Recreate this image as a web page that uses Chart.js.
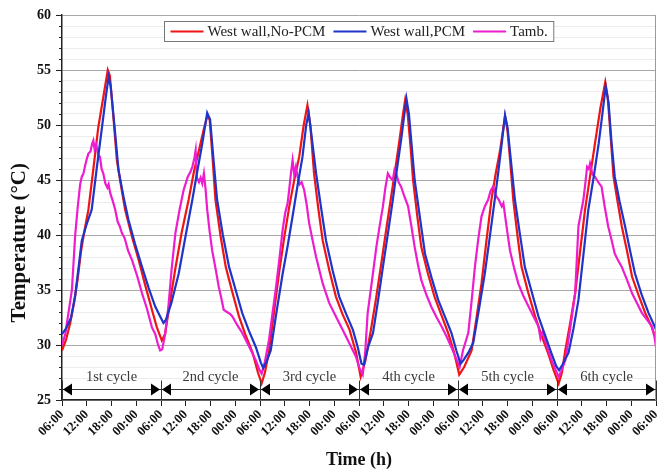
<!DOCTYPE html>
<html>
<head>
<meta charset="utf-8">
<title>West wall temperature</title>
<script src="https://cdn.jsdelivr.net/npm/chart.js"></script>
<style>
  html, body { margin: 0; padding: 0; background: #fff; }
  #wrap { width: 657px; height: 472px; }
</style>
</head>
<body>
<div id="wrap"><canvas id="chart" width="657" height="472"></canvas></div>
<script>
// hours counted from 06:00 of day 1, temperatures in degC
const noPcmData = [
  [0,29.5],[1,30.5],[2,32],[3,34],[3.8,36],[4.6,38.5],[5.5,40.5],[6.4,42.3],[7.6,46],[8.8,49.8],[10,52.5],[11.1,55],[11.6,54.5],[12.4,51],[13.3,46.8],[14.3,44.5],[15.3,42.3],[17,39.8],[18.6,37.7],[20.2,35.4],[21.8,33.2],[23,31.6],[24.2,30.4],
  [25,31],[26,33.5],[27.5,37],[29,40.2],[30.7,43.2],[32,45.8],[33.2,47.7],[34.3,49.5],[35.2,50.8],[35.8,50.5],[36.5,47],[37.2,43.2],[38.4,40],[39.7,37.1],[41.3,34.8],[42.9,32.6],[44.5,30.9],[46.2,29.3],[47.5,27.5],[48.4,26.5],
  [49.2,27.5],[50.2,29.5],[51.4,33],[52.6,36.5],[53.8,39.6],[55.1,42.6],[56.3,45],[57.5,47.1],[58.6,50],[59.5,51.8],[60.2,50],[61.1,45.6],[62.1,42.5],[63.2,39.5],[64.8,36.8],[66.4,34.4],[68,32.8],[69.7,31.4],[71.3,29.3],[72.4,27.1],
  [73.5,28.5],[74.9,31.4],[76.2,34.4],[77.4,37.4],[78.6,40.5],[79.8,43.5],[80.8,46],[81.8,48.6],[82.6,50.8],[83.2,52.3],[83.8,51],[84.5,48],[85.1,45],[86.1,41.8],[87.1,38.9],[88.7,36.5],[90.3,34.4],[92,32.7],[93.6,31.1],[95,29.4],[96.3,27.3],
  [97.5,28],[99.3,29.5],[100.5,32.5],[101.7,35.6],[102.9,39.5],[104.1,43.2],[105.1,45.5],[106.2,47.7],[107.4,50.8],[108,49.5],[108.7,46.5],[109.4,43.2],[110.4,40],[111.4,37.1],[113,34.8],[114.7,32.6],[116.3,30.8],[117.9,29.2],[119.2,27.7],[120.4,26.5],
  [121.2,27.5],[122,29.5],[123.2,32],[124.4,34.7],[125.6,38.5],[126.8,42.3],[128,45.3],[129.2,48.3],[130.5,51.5],[131.7,53.9],[132.3,52.5],[133,49],[133.7,45.3],[134.7,43],[135.7,40.8],[137,38.5],[138.2,36.2],[139.8,34.5],[141.4,32.9],[143,31.6],[144,30.5]
];
const pcmData = [
  [0,31],[1,31.5],[2.2,32.5],[3.2,34.5],[4,37],[4.8,39.5],[6,41],[7.2,42.3],[8.4,46],[9.7,49.8],[10.6,52.5],[11.3,54.4],[11.8,53.5],[12.7,50],[13.7,45.9],[14.9,43.5],[16.1,41.4],[17.7,39.2],[19.4,37.1],[21,35.2],[22.6,33.5],[23.8,32.6],[24.6,32],[25.2,32.3],
  [26.5,33.8],[28.3,36.5],[30,40],[31.6,43.2],[32.8,45.8],[34,48.3],[35.2,51.1],[35.9,50.5],[36.7,47],[37.6,43.2],[39,40],[40.5,37.1],[42.1,35],[43.7,32.9],[45.3,31.3],[47,29.8],[48.2,28.4],[48.8,27.9],
  [49.6,28.5],[50.6,29.5],[52,33],[53.5,36.5],[54.7,39],[55.9,41.7],[57.1,44.5],[58.3,47.1],[59.2,50],[59.8,51.1],[60.5,49],[61.6,45.6],[62.8,42.5],[64,39.5],[65.6,36.8],[67.2,34.4],[68.9,32.8],[70.5,31.4],[71.7,29.8],[72.6,28.3],[73.2,28.2],
  [74.2,29.8],[75.4,31.1],[76.6,34],[77.8,37.1],[79,40.1],[80.2,43.2],[81.2,46],[82.2,48.6],[83,51],[83.5,52.4],[84.1,51],[84.8,48],[85.5,45],[86.8,41.5],[88,38.3],[89.6,36.1],[91.2,34.1],[92.8,32.6],[94.4,31.1],[95.6,29.5],[96.6,28.3],[97.3,28.6],
  [98.5,29.3],[99.7,30.2],[101.1,33.3],[102.5,36.5],[103.7,39.8],[104.9,43.2],[105.8,45.8],[106.6,48.3],[107.4,50.9],[108,49.8],[108.9,46.5],[109.8,43.2],[111,40.1],[112.2,37.1],[113.9,34.8],[115.5,32.6],[117.1,30.9],[118.7,29.2],[119.8,28.1],[120.5,27.7],[121.3,28.2],
  [122.8,29.3],[124,31.5],[125.2,34.1],[126.4,38.2],[127.6,42.3],[128.9,45.3],[130.1,48.3],[131,51],[131.8,53.5],[132.5,52],[133.2,48.5],[134,45.3],[135.2,43],[136.5,40.8],[137.7,38.6],[138.9,36.5],[140.5,34.6],[142.2,32.9],[143.3,32],[144,31.4]
];
const ambientData = [
  [0,30],[0.8,31],[1.6,33],[2.4,35],[3.2,40],[3.8,42.5],[4.4,44.6],[4.8,45.3],[5.2,45.6],[5.6,46.3],[6,46.9],[6.4,47.4],[6.9,47.6],[7.3,48.3],[7.6,48.6],[7.9,47.8],[8.3,48.2],[8.8,47.3],[9.2,47.1],[9.6,46],[10,45.6],[10.5,44.7],[11,44.3],[11.3,44.6],[11.7,43.8],[12.3,43.1],[12.9,42.3],[13.5,41.2],[14,40.8],[14.5,40.2],[15.2,39.7],[16,38.6],[17,37.7],[18.2,36.3],[19.4,34.7],[20.6,33.3],[21.8,31.6],[22.6,31],[23.3,30],[23.8,29.5],
  [24.3,29.6],[25,31],[25.8,33.5],[26.6,37],[27.5,40.2],[28.5,42.3],[29.5,44.1],[30.5,45.3],[31.2,45.8],[31.6,46.2],[32.1,47],[32.4,47.7],[32.7,45.2],[33.2,44.8],[33.6,45.2],[34,44.7],[34.4,45.6],[34.8,44.2],[35.2,42.3],[35.8,40.3],[36.4,38.6],[37.2,37],[38,35.3],[38.6,34.3],[39.2,33.2],[40,33],[40.8,32.8],[41.3,32.6],[42.5,31.8],[43.7,31.1],[45.3,29.9],[47,28.6],[47.8,27.8],[48.4,27.4],
  [49.2,28.5],[50.2,30.5],[51,32.8],[51.8,35],[52.7,37.8],[53.5,40.5],[54.1,42],[54.7,42.9],[55.1,44.2],[55.5,45.6],[55.9,46.8],[56.3,45.5],[56.7,46.2],[57.1,45.3],[57.6,44.6],[58.1,44.8],[58.7,44.1],[59.3,42.8],[59.9,41.1],[60.7,39.6],[61.6,38],[62.4,36.8],[63.2,35.6],[64,34.7],[64.8,33.8],[66.4,32.6],[68,31.4],[69.6,30.2],[71.3,28.9],[72.2,27.8],[72.9,27.3],
  [73.5,29.3],[74.1,32.9],[75.2,36],[76.2,38.9],[77,40.8],[77.8,42.6],[78.4,44.3],[79,45.6],[79.6,45.2],[80.2,45],[80.6,45.9],[81,45.6],[81.6,44.8],[82.2,44.4],[83,43.5],[83.9,42.6],[84.7,40.8],[85.5,38.9],[86.3,37.3],[87.1,35.9],[88.3,34.6],[89.5,33.5],[90.7,32.6],[92,31.7],[93.2,30.8],[94.4,29.8],[95.4,28.9],[96.4,28],
  [97.2,29.5],[98.5,31.1],[99.3,34],[100.1,37.1],[100.9,39.6],[101.7,41.7],[102.5,42.6],[103.3,43.2],[103.9,44],[104.5,44.4],[104.9,44],[105.3,43.5],[105.9,43.2],[106.6,42.6],[107,42.9],[107.8,40.7],[108.6,38.6],[109.6,37],[110.6,35.6],[111.8,34.5],[113.1,33.5],[114.3,32.6],[115.5,31.7],[116,30.6],[116.5,31.2],[117.6,29.8],[118.7,28.6],[119.6,27.8],[120.4,27.1],
  [121,27.6],[122,28.6],[123.2,31.5],[124.4,34.7],[125.2,40.8],[125.8,42],[126.4,43.2],[126.9,44.8],[127.3,46.2],[127.7,46],[128,46.5],[128.6,45.5],[129.2,45.3],[130,44.8],[130.8,44.4],[131.6,42.5],[132.4,40.8],[133.2,39.6],[134,38.3],[134.8,37.7],[135.7,37.1],[137,35.9],[138.2,34.7],[139.4,33.8],[140.6,32.9],[141.8,32.3],[143,31.7],[143.6,30.8],[144,29.8]
];
const seriesNames = ['West wall,No-PCM', 'West wall,PCM', 'Tamb.'];
const clockLabels = ['06:00', '12:00', '18:00', '00:00'];
const cycleBounds = [0, 24, 48, 72, 96, 120, 144];
const cycleNames = ['1st cycle', '2nd cycle', '3rd cycle', '4th cycle', '5th cycle', '6th cycle'];
const arrowLevel = 26.0;
const cycleTextLevel = 27.1;
const yTitle = 'Temperature (°C)';

const serif = "'Liberation Serif', 'Times New Roman', serif";
const colors = ['#f01414', '#1f34c8', '#ee1ccf'];

function toPoints(arr) {
  return arr.map(p => ({ x: p[0], y: p[1] }));
}

// legend box drawn inside the plot, plus the cycle arrows, frame and y title
const extras = {
  id: 'extras',
  afterDraw(chart) {
    const ctx = chart.ctx;
    const area = chart.chartArea;
    const xs = chart.scales.x, ys = chart.scales.y;
    ctx.save();

    // right frame line
    ctx.strokeStyle = '#9a9a9a';
    ctx.lineWidth = 1;
    ctx.beginPath();
    ctx.moveTo(area.right - 0.5, area.top);
    ctx.lineTo(area.right - 0.5, area.bottom);
    ctx.stroke();

    // minor ticks on y axis
    ctx.strokeStyle = '#222';
    ctx.beginPath();
    for (let v = 25; v <= 60; v++) {
      if (v % 5 === 0) continue;
      const y = Math.round(ys.getPixelForValue(v)) + 0.5;
      ctx.moveTo(area.left - 3, y);
      ctx.lineTo(area.left, y);
    }
    ctx.stroke();

    // y title (sits a bit below the plot centre in the original)
    ctx.save();
    ctx.translate(20, ys.getPixelForValue(39.3));
    ctx.rotate(-Math.PI / 2);
    ctx.font = 'bold 21px ' + serif;
    ctx.fillStyle = '#111';
    ctx.textAlign = 'center';
    ctx.textBaseline = 'middle';
    ctx.fillText(yTitle, 0, 0);
    ctx.restore();

    // cycle arrows
    const ay = Math.round(ys.getPixelForValue(arrowLevel)) + 0.5;
    const ty = ys.getPixelForValue(cycleTextLevel);
    ctx.strokeStyle = '#333';
    ctx.fillStyle = '#000';
    ctx.lineWidth = 1;
    ctx.beginPath();
    ctx.moveTo(xs.getPixelForValue(cycleBounds[0]), ay);
    ctx.lineTo(xs.getPixelForValue(cycleBounds[cycleBounds.length - 1]), ay);
    ctx.stroke();
    cycleBounds.forEach(b => {
      const x = Math.round(xs.getPixelForValue(b)) + 0.5;
      ctx.beginPath();
      ctx.moveTo(x, ay - 9);
      ctx.lineTo(x, area.bottom);
      ctx.stroke();
    });
    for (let i = 0; i < cycleNames.length; i++) {
      const x0 = xs.getPixelForValue(cycleBounds[i]);
      const x1 = xs.getPixelForValue(cycleBounds[i + 1]);
      ctx.beginPath();
      ctx.moveTo(x0 + 1, ay);
      ctx.lineTo(x0 + 10, ay - 6);
      ctx.lineTo(x0 + 10, ay + 6);
      ctx.closePath();
      ctx.fill();
      ctx.beginPath();
      ctx.moveTo(x1 - 1, ay);
      ctx.lineTo(x1 - 10, ay - 6);
      ctx.lineTo(x1 - 10, ay + 6);
      ctx.closePath();
      ctx.fill();
      ctx.font = '14.5px ' + serif;
      ctx.fillStyle = '#3a3a3a';
      ctx.textAlign = 'center';
      ctx.textBaseline = 'middle';
      ctx.fillText(cycleNames[i], (x0 + x1) / 2, ty);
      ctx.fillStyle = '#000';
    }

    // legend
    ctx.font = '15px ' + serif;
    const lineLen = 33, gapLine = 4, gapItem = 8, padX = 6;
    const widths = seriesNames.map(n => ctx.measureText(n).width);
    let total = padX * 2;
    widths.forEach((w, i) => { total += lineLen + gapLine + w + (i < widths.length - 1 ? gapItem : 0); });
    const cx = (area.left + area.right) / 2;
    const bx = Math.round(cx - total / 2) + 0.5;
    const by = 21.5, bh = 20;
    ctx.fillStyle = '#fff';
    ctx.fillRect(bx, by, total, bh);
    ctx.strokeStyle = '#777';
    ctx.lineWidth = 1;
    ctx.strokeRect(bx, by, total, bh);
    let x = bx + padX;
    const my = by + bh / 2;
    seriesNames.forEach((n, i) => {
      ctx.strokeStyle = colors[i];
      ctx.lineWidth = 2;
      ctx.beginPath();
      ctx.moveTo(x, my);
      ctx.lineTo(x + lineLen, my);
      ctx.stroke();
      x += lineLen + gapLine;
      ctx.fillStyle = '#222';
      ctx.textAlign = 'left';
      ctx.textBaseline = 'middle';
      ctx.fillText(n, x, my + 1);
      x += widths[i] + gapItem;
    });
    ctx.restore();
  }
};

const ctx = document.getElementById('chart').getContext('2d');
new Chart(ctx, {
  type: 'line',
  data: {
    datasets: [
      { label: seriesNames[0], data: toPoints(noPcmData), borderColor: colors[0], order: 2 },
      { label: seriesNames[1], data: toPoints(pcmData), borderColor: colors[1], order: 0 },
      { label: seriesNames[2], data: toPoints(ambientData), borderColor: colors[2], order: 1 }
    ]
  },
  options: {
    responsive: false,
    animation: false,
    events: [],
    layout: { padding: { top: 15, right: 1, left: 0, bottom: 0 } },
    elements: {
      line: { borderWidth: 2.2, tension: 0 },
      point: { radius: 0 }
    },
    plugins: { legend: { display: false }, tooltip: { enabled: false } },
    scales: {
      x: {
        type: 'linear',
        min: 0,
        max: 144,
        afterFit: s => { s.height = 72; s.paddingRight = 0; },
        ticks: {
          stepSize: 6,
          autoSkip: false,
          maxRotation: 45,
          minRotation: 45,
          padding: 1,
          color: '#111',
          font: { family: serif, size: 13, weight: 'bold' },
          callback: v => clockLabels[Math.round(v / 6) % 4]
        },
        grid: { drawOnChartArea: false, drawTicks: true, tickLength: 6, tickColor: '#222' },
        border: { color: '#222', width: 1.5 },
        title: {
          display: true,
          text: 'Time (h)',
          color: '#111',
          font: { family: serif, size: 18, weight: 'bold' },
          padding: { top: 0, bottom: 1 }
        }
      },
      y: {
        min: 25,
        max: 60,
        afterFit: s => { s.width = 62; },
        ticks: {
          stepSize: 1,
          autoSkip: false,
          padding: 5,
          color: '#111',
          font: { family: serif, size: 14, weight: 'bold' },
          callback: v => (v % 5 === 0 ? v : '')
        },
        grid: {
          color: c => (c.tick.value % 5 === 0 ? '#a8a8a8' : '#ececec'),
          tickColor: c => (c.tick.value % 5 === 0 ? '#222' : 'rgba(0,0,0,0)'),
          tickLength: 6
        },
        border: { color: '#222', width: 1.5 }
      }
    }
  },
  plugins: [extras]
});
</script>
</body>
</html>
